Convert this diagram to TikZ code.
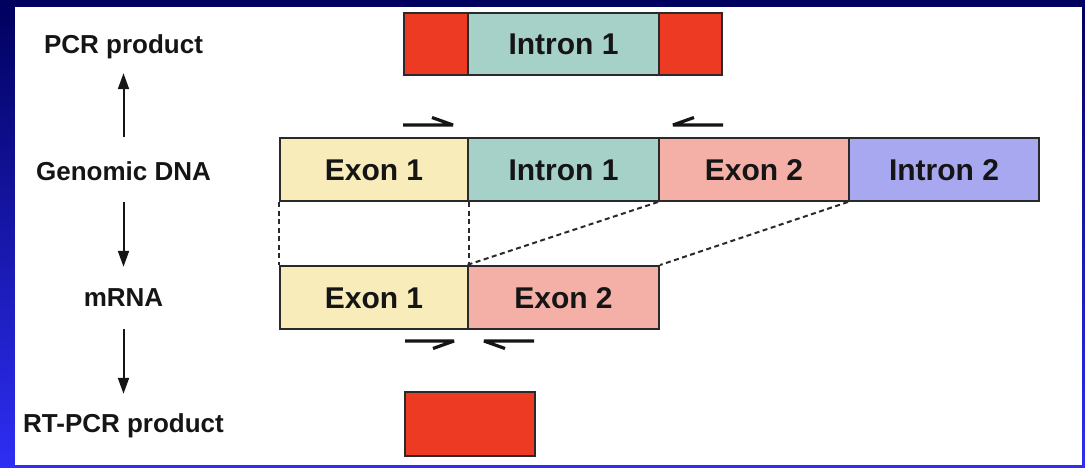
\documentclass[tikz,border=0pt]{standalone}
\usepackage{fontspec}
\setmainfont{Liberation Sans}
\usetikzlibrary{arrows.meta}
\definecolor{navy}{HTML}{00005E}
\definecolor{brightblue}{HTML}{2E2EF4}
\definecolor{exonA}{HTML}{F8ECBA}
\definecolor{intronA}{HTML}{A5D1C8}
\definecolor{exonB}{HTML}{F4B0A6}
\definecolor{intronB}{HTML}{A8A8F0}
\definecolor{pcrred}{HTML}{EC3A23}
\definecolor{edge}{HTML}{2A2A2A}
\definecolor{ink}{HTML}{151515}
\begin{document}
\begin{tikzpicture}[x=1pt,y=-1pt,
  seg/.style={draw=edge, line width=2pt, inner sep=0pt, anchor=north west, text=ink,
    font=\fontsize{30}{30}\selectfont\bfseries, text height=21.5pt, text depth=0pt},
  lab/.style={font=\fontsize{26}{26}\selectfont\bfseries, text=ink, inner sep=0pt,
    text height=19pt, text depth=0pt},
  flow/.style={line width=2pt, draw=ink, -{Triangle[length=16pt,width=11pt]}},
  splice/.style={dash pattern=on 5pt off 3.5pt, line width=2pt, draw=edge},
  primer/.style={line width=3.2pt, draw=ink, line join=bevel, line cap=butt}]
% background and panel
\shade[top color=navy, bottom color=brightblue] (0,0) rectangle (1085,467);
\fill[white] (15,7) rectangle (1082,465);
\useasboundingbox (0,0) rectangle (1085,467);

% left labels
\node[lab] (pcrl) at (123.5,43.5) {PCR product};
\node[lab] (gen)  at (123.5,170.5) {Genomic DNA};
\node[lab] (mrl)  at (123.5,296.5) {mRNA};
\node[lab] (rtl)  at (123.5,422.5) {RT-PCR product};

\draw[flow, shorten <=24pt, shorten >=20pt] (gen.north) -- (pcrl.south);
\draw[flow, shorten <=22pt, shorten >=20pt] (gen.south) -- (mrl.north);
\draw[flow, shorten <=23pt, shorten >=19pt] (mrl.south) -- (rtl.north);

% PCR product
\node[seg, fill=pcrred, minimum width=64pt, minimum height=62pt] (pL) at (403,12) {};
\node[seg, fill=intronA, minimum width=191pt, minimum height=62pt] (pI) at (467,12) {Intron 1};
\node[seg, fill=pcrred, minimum width=63pt, minimum height=62pt] (pR) at (658,12) {};

% genomic DNA
\node[seg, fill=exonA, minimum width=188pt, minimum height=63pt] (gE1) at (279,137) {Exon 1};
\node[seg, fill=intronA, minimum width=191pt, minimum height=63pt] (gI1) at (467,137) {Intron 1};
\node[seg, fill=exonB, minimum width=190pt, minimum height=63pt] (gE2) at (658,137) {Exon 2};
\node[seg, fill=intronB, minimum width=190pt, minimum height=63pt] (gI2) at (848,137) {Intron 2};

% mRNA
\node[seg, fill=exonA, minimum width=188pt, minimum height=63pt] (mE1) at (279,265) {Exon 1};
\node[seg, fill=exonB, minimum width=191pt, minimum height=63pt] (mE2) at (467,265) {Exon 2};

% splicing correspondences
\draw[splice] (gE1.south west) -- (mE1.north west);
\draw[splice] (gE1.south east) -- (mE1.north east);
\draw[splice] (gE2.south west) -- (mE2.north west);
\draw[splice] (gI2.south west) -- (mE2.north east);

% RT-PCR product
\node[seg, fill=pcrred, minimum width=130pt, minimum height=64pt] (rt) at (404,391) {};

% primers on genomic DNA
\draw[primer] (403,125) -- (453,125) -- (432,117.5);
\draw[primer] (723,125) -- (673,125) -- (694,117.5);
% primers on mRNA
\draw[primer] (405,341) -- (454,341) -- (433,348.5);
\draw[primer] (534,341) -- (484,341) -- (505,348.5);
\end{tikzpicture}
\end{document}
